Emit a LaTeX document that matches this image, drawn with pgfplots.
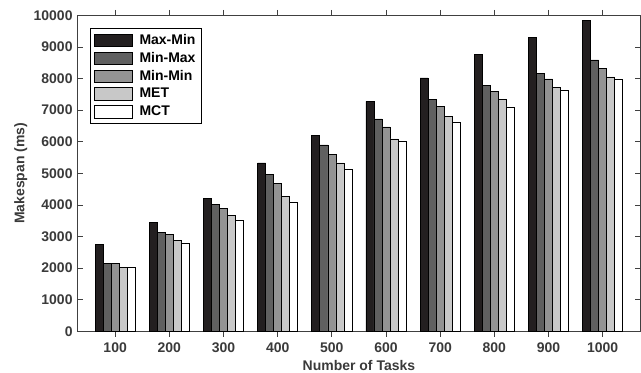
\documentclass[border=0pt]{standalone}
\usepackage{fontspec}
\setmainfont{Liberation Sans}
\usepackage{pgfplots}
\pgfplotsset{compat=1.18}
\definecolor{cA}{HTML}{231F20}
\definecolor{cB}{HTML}{606060}
\definecolor{cC}{HTML}{939393}
\definecolor{cD}{HTML}{C8C8C8}
\definecolor{cE}{HTML}{FFFFFF}
\definecolor{txt}{HTML}{3A3A3A}
\begin{document}
\begin{tikzpicture}
\begin{axis}[
  name=ax,
  scale only axis,
  width=423pt, height=237.3pt,
  xmin=0.3, xmax=10.7,
  ymin=0, ymax=10000,
  xtick={1,...,10},
  xticklabels={100,200,300,400,500,600,700,800,900,1000},
  ytick={0,1000,...,10000},
  scaled y ticks=false,
  yticklabel style={/pgf/number format/1000 sep={}},
  /pgf/number format/assume math mode=true,
  tick label style={font=\fontsize{10.5}{12}\selectfont\bfseries, text=txt},
  label style={font=\fontsize{10.5}{12}\selectfont\bfseries, text=txt},
  xlabel={Number of Tasks},
  ylabel={Makespan (ms)},
  xlabel style={yshift=1pt},
  ylabel style={yshift=-2pt},
  tick align=inside,
  major tick length=4pt,
  axis line style={black!75, line width=0.8pt},
  tick style={black!75, line width=0.6pt},
  x tick label style={yshift=-1pt},
  ybar=0pt,
  bar width=0.148,
  every axis plot/.append style={draw=black, line width=0.5pt,
    legend image code/.code={\draw[##1] (2pt,-4.8pt) rectangle (31pt,4.8pt); \path (34pt,0pt);}},
  legend style={at={(0.0225,0.96)}, anchor=north west, draw=black, line width=0.5pt,
    font=\fontsize{10.5}{12}\selectfont\bfseries, text=black,
    row sep=0.4pt, inner xsep=2.5pt, inner ysep=2.5pt},
  legend cell align=left,
]
\addplot[fill=cA] coordinates {(1,2750) (2,3450) (3,4210) (4,5330) (5,6190) (6,7280) (7,8020) (8,8760) (9,9300) (10,9840)};
\addplot[fill=cB] coordinates {(1,2140) (2,3130) (3,4010) (4,4960) (5,5900) (6,6720) (7,7350) (8,7790) (9,8170) (10,8590)};
\addplot[fill=cC] coordinates {(1,2140) (2,3060) (3,3890) (4,4680) (5,5610) (6,6470) (7,7120) (8,7600) (9,7990) (10,8310)};
\addplot[fill=cD] coordinates {(1,2010) (2,2870) (3,3680) (4,4260) (5,5330) (6,6090) (7,6800) (8,7350) (9,7720) (10,8050)};
\addplot[fill=cE] coordinates {(1,2030) (2,2800) (3,3520) (4,4070) (5,5120) (6,6010) (7,6610) (8,7100) (9,7620) (10,7970)};
\legend{Max-Min,Min-Max,Min-Min,MET,MCT}
\end{axis}
\pgfresetboundingbox
\path[use as bounding box] ([xshift=-58pt,yshift=-31pt]ax.south west) rectangle ([xshift=0.3pt,yshift=11.5pt]ax.north east);
\end{tikzpicture}
\end{document}
